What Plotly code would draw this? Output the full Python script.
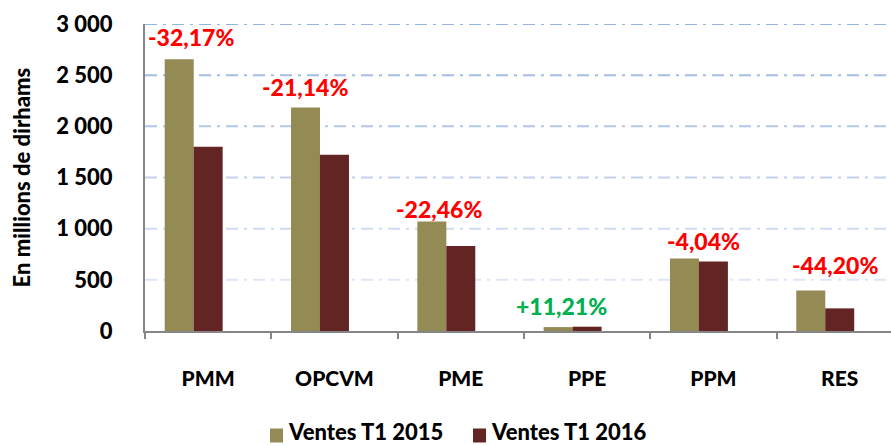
import plotly.graph_objects as go

categories = ["PMM", "OPCVM", "PME", "PPE", "PPM", "RES"]
series_names = ["Ventes T1 2015", "Ventes T1 2016"]
ventes_2015 = [2655, 2185, 1070, 38, 708, 396]
ventes_2016 = [1801, 1723, 830, 42, 679, 221]
variation_labels = ["-32,17%", "-21,14%", "-22,46%", "+11,21%", "-4,04%", "-44,20%"]
y_ticks = [0, 500, 1000, 1500, 2000, 2500, 3000]
y_tick_labels = ["0", "500", "1 000", "1 500", "2 000", "2 500", "3 000"]

FONT = "Lato"
WEIGHT = 900
C15 = "#948A54"
C16 = "#632523"
BW = 0.2296

W, H = 891, 446
ML, MR, MT, MB = 145, 0, 24, 115
PW, PH = W - ML - MR, H - MT - MB


def px_to_paper_x(px):
    return (px - ML) / PW


def px_to_paper_y(py):
    return (H - MB - py) / PH


fig = go.Figure()
fig.add_trace(go.Bar(x=categories, y=ventes_2015, name=series_names[0],
                     marker=dict(color=C15, line=dict(width=0)),
                     width=BW, offset=-0.344, showlegend=False))
fig.add_trace(go.Bar(x=categories, y=ventes_2016, name=series_names[1],
                     marker=dict(color=C16, line=dict(width=0)),
                     width=BW, offset=-0.1148, showlegend=False))

# gradient dash-dot gridlines
grid_colors = ["#DDE6F5", "#CFDCF1", "#C2D2EC", "#B3C7E7", "#A5BDE3", "#95B3DF"]
for tv, col in zip(y_ticks[1:], grid_colors):
    fig.add_shape(type="line", xref="paper", yref="y", x0=0, x1=1, y0=tv, y1=tv,
                  line=dict(color=col, width=2, dash="12px,6px,3px,6px"), layer="below")

# variation labels
xshifts = [-17, -29, -22, -26, -10, -5]
yshifts = [22, 20, 13, 21, 18, 25]
for i, (cat, lab) in enumerate(zip(categories, variation_labels)):
    top = max(ventes_2015[i], ventes_2016[i])
    color = "#00B050" if lab.startswith("+") else "#FF0000"
    fig.add_annotation(x=cat, y=top, text=lab, showarrow=False,
                       xanchor="center", yanchor="middle",
                       xshift=xshifts[i], yshift=yshifts[i],
                       font=dict(family=FONT, size=23, color=color, weight=WEIGHT))

fig.add_annotation(xref="paper", yref="paper", x=-0.165, y=0.5,
                   text="En millions de dirhams", textangle=-90, showarrow=False,
                   xanchor="center", yanchor="middle",
                   font=dict(family=FONT, size=22, color="#000000", weight=WEIGHT))

# legend (drawn manually so it can sit at the very bottom)
legend_items = [(series_names[0], C15, 270), (series_names[1], C16, 473)]
sq_center = 435.5
for name, col, sx in legend_items:
    fig.add_shape(type="rect", xref="paper", yref="paper",
                  x0=px_to_paper_x(sx), x1=px_to_paper_x(sx + 13),
                  y0=px_to_paper_y(sq_center + 7), y1=px_to_paper_y(sq_center - 7),
                  fillcolor=col, line=dict(width=0))
    fig.add_annotation(xref="paper", yref="paper", x=px_to_paper_x(sx + 17),
                       y=px_to_paper_y(445.5), text=name, showarrow=False,
                       xanchor="left", yanchor="bottom", borderpad=0,
                       font=dict(family=FONT, size=22, color="#000000", weight=WEIGHT))

fig.update_layout(
    width=W, height=H,
    margin=dict(l=ML, r=MR, t=MT, b=MB),
    paper_bgcolor="white", plot_bgcolor="white",
    barmode="overlay",
    showlegend=False,
    xaxis=dict(type="category", range=[-0.5, 5.406], showgrid=False,
               showline=True, linecolor="#868686", linewidth=2,
               ticks="outside", ticklen=6, tickcolor="#868686", tickwidth=2,
               tickson="boundaries", ticklabelstandoff=28,
               tickfont=dict(family=FONT, size=21, color="#000000", weight=WEIGHT)),
    yaxis=dict(range=[0, 3000], showgrid=False, zeroline=False,
               showline=True, linecolor="#868686", linewidth=2,
               tickmode="array", tickvals=y_ticks, ticktext=y_tick_labels,
               ticks="", ticklabelstandoff=26,
               tickfont=dict(family=FONT, size=22, color="#000000", weight=WEIGHT)),
)

fig.write_html("out.html")
